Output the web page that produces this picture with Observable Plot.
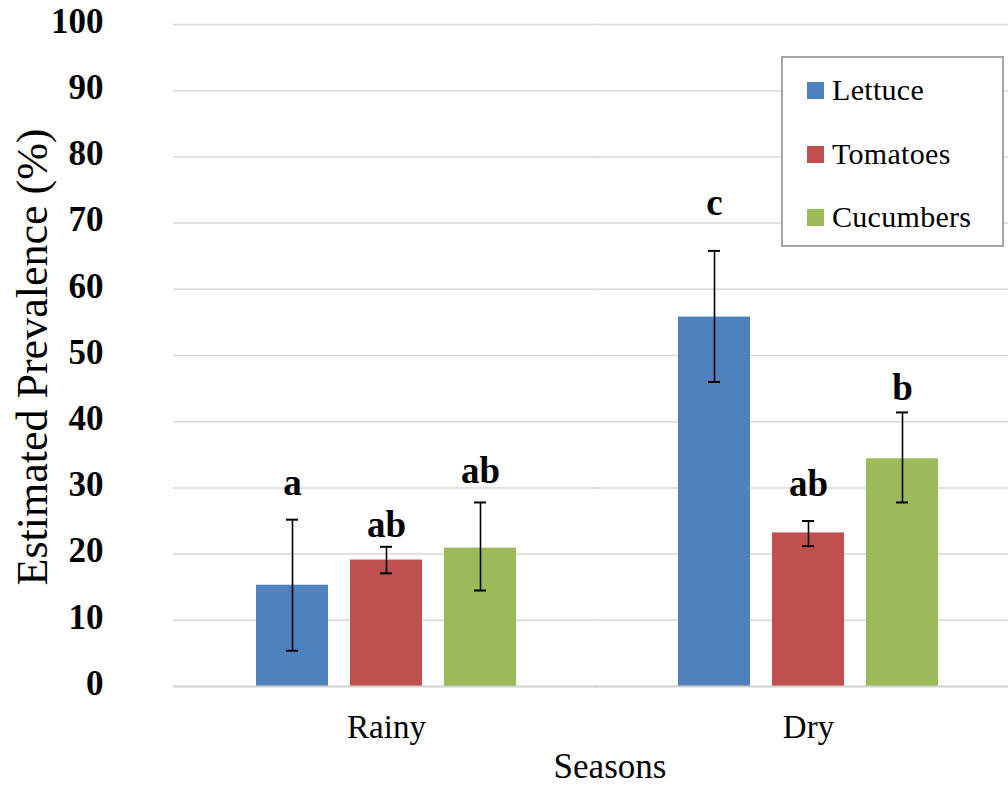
<!DOCTYPE html>
<html>
<head>
<meta charset="utf-8">
<script src="https://cdn.jsdelivr.net/npm/d3@7"></script>
<script src="https://cdn.jsdelivr.net/npm/@observablehq/plot@0.6"></script>
<style>
  html, body { margin: 0; padding: 0; background: #fff; overflow: hidden; }
  #wrap { position: relative; width: 1008px; height: 786px; font-family: "Liberation Serif", serif; color: #000; }
  #wrap svg text { font-family: "Liberation Serif", serif; }
  #ytitle { position: absolute; left: 33px; top: 357px; transform: translate(-50%, -50%) rotate(-90deg); white-space: nowrap; font-size: 44px; line-height: 1; font-family: "Liberation Serif", serif; }
  #xtitle { position: absolute; left: 610px; top: 749px; transform: translateX(-50%); white-space: nowrap; font-size: 35px; line-height: 1; font-family: "Liberation Serif", serif; }
  #legend { position: absolute; left: 781px; top: 56px; width: 219px; height: 187px; border: 2px solid #a6a6a6; background: #fff; box-sizing: content-box; }
  .item { position: absolute; left: 24px; height: 34px; display: flex; align-items: center; font-size: 30px; white-space: nowrap; font-family: "Liberation Serif", serif; letter-spacing: 0.3px; }
  .sw { width: 17px; height: 17px; margin-right: 8px; }
</style>
</head>
<body>
<div id="wrap"></div>
<script>
// ---- data ----
const seasons = ["Rainy", "Dry"];
const crops = ["Lettuce", "Tomatoes", "Cucumbers"];
const cropColors = ["#4F81BD", "#C0504D", "#9BBB59"];

const rainyPrevalence = [15.3, 19.1, 20.9];
const dryPrevalence = [55.8, 23.2, 34.4];

const rainyLow = [5.4, 17.1, 14.5];
const rainyHigh = [25.2, 21.1, 27.8];
const dryLow = [46.0, 21.2, 27.8];
const dryHigh = [65.8, 25.0, 41.4];

const rainyLetters = ["a", "ab", "ab"];
const dryLetters = ["c", "ab", "b"];
// level (in %) of the baseline of each significance letter
const rainyLetterLevel = [28.9, 22.6, 30.8];
const dryLetterLevel = [71.2, 28.8, 43.3];

const yTicks = [0, 10, 20, 30, 40, 50, 60, 70, 80, 90, 100];

// ---- table built from the arrays ----
const bySeason = {
  Rainy: {v: rainyPrevalence, lo: rainyLow, hi: rainyHigh, l: rainyLetters, ll: rainyLetterLevel},
  Dry: {v: dryPrevalence, lo: dryLow, hi: dryHigh, l: dryLetters, ll: dryLetterLevel}
};
const data = seasons.flatMap(s => crops.map((c, j) => ({
  season: s, crop: c,
  value: bySeason[s].v[j], lo: bySeason[s].lo[j], hi: bySeason[s].hi[j],
  letter: bySeason[s].l[j], letterLevel: bySeason[s].ll[j]
})));

const chart = Plot.plot({
  width: 1008,
  height: 786,
  marginTop: 24,
  marginBottom: 100,
  marginLeft: 173,
  marginRight: 0,
  style: {fontFamily: "Liberation Serif, serif", color: "#000", background: "#fff", overflow: "visible"},
  fx: {domain: seasons, range: [175, 1019], padding: 0, axis: null, label: null},
  x: {domain: crops, paddingInner: 0.23, paddingOuter: 0.85, axis: null},
  y: {domain: [0, 100], axis: null},
  color: {domain: crops, range: cropColors},
  marks: [
    Plot.ruleY(yTicks.filter(d => d > 0), {stroke: "#d9d9d9", strokeWidth: 1.5, insetLeft: -2}),
    Plot.barY(data, {fx: "season", x: "crop", y: "value", fill: "crop"}),
    Plot.ruleY([0], {stroke: "#d0d0d0", strokeWidth: 2, insetLeft: -2}),
    Plot.ruleX(data, {fx: "season", x: "crop", y1: "lo", y2: "hi", stroke: "#000", strokeWidth: 1.6}),
    Plot.tickY(data, {fx: "season", x: "crop", y: "lo", stroke: "#000", strokeWidth: 2, insetLeft: 30, insetRight: 30}),
    Plot.tickY(data, {fx: "season", x: "crop", y: "hi", stroke: "#000", strokeWidth: 2, insetLeft: 30, insetRight: 30}),
    Plot.text(data, {fx: "season", x: "crop", y: "letterLevel", text: "letter", lineAnchor: "bottom", fontSize: 37, fontWeight: "bold", fill: "#000"}),
    Plot.axisY({ticks: yTicks, tickSize: 0, tickPadding: 72, fontSize: 35, fontWeight: "bold", label: null, dy: -3}),
    Plot.axisFx({anchor: "bottom", tickSize: 0, tickPadding: 28, fontSize: 33, label: null})
  ]
});

const wrap = document.getElementById("wrap");
wrap.appendChild(chart);

const yt = document.createElement("div");
yt.id = "ytitle";
yt.textContent = "Estimated Prevalence (%)";
wrap.appendChild(yt);

const xt = document.createElement("div");
xt.id = "xtitle";
xt.textContent = "Seasons";
wrap.appendChild(xt);

const legend = document.createElement("div");
legend.id = "legend";
const legendCenters = [32, 96, 159];
crops.forEach((c, i) => {
  const it = document.createElement("div");
  it.className = "item";
  it.style.top = (legendCenters[i] - 17) + "px";
  const sw = document.createElement("span");
  sw.className = "sw";
  sw.style.background = cropColors[i];
  const tx = document.createElement("span");
  tx.textContent = c;
  it.appendChild(sw);
  it.appendChild(tx);
  legend.appendChild(it);
});
wrap.appendChild(legend);
</script>
</body>
</html>
